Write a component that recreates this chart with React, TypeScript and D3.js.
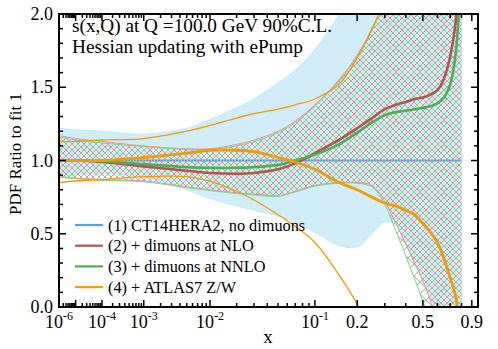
import React from 'react';
import * as d3 from 'd3';

const xGrid = [1e-6, 1e-5, 1e-4, 1e-3, 5e-3, 1e-2, 2e-2, 3e-2, 5e-2, 0.07, 0.1, 0.15, 0.2, 0.25, 0.3, 0.35, 0.4, 0.45, 0.5, 0.55, 0.6, 0.65, 0.7, 0.75, 0.8];

const ct14Central = [1, 1, 1, 1, 1, 1, 1, 1, 1, 1, 1, 1, 1, 1, 1, 1, 1, 1, 1, 1, 1, 1, 1, 1, 1];
const ct14Upper = [1.22, 1.21, 1.2, 1.18, 1.22, 1.28, 1.36, 1.42, 1.53, 1.62, 1.76, 2.0, 2.3, 2.6, 2.8, 3, 3, 3, 3, 3, 3, 3, 3, 3, 3];
const ct14Lower = [0.88, 0.9, 0.91, 0.89, 0.8, 0.74, 0.69, 0.66, 0.62, 0.58, 0.51, 0.42, 0.41, 0.5, 0.58, 0.56, 0.43, 0.29, 0.17, 0.06, -0.05, -0.2, -0.4, -0.6, -0.8];

const nloCentral = [1.0, 1.0, 0.99, 0.96, 0.93, 0.915, 0.91, 0.915, 0.94, 0.98, 1.05, 1.14, 1.22, 1.29, 1.35, 1.38, 1.4, 1.42, 1.43, 1.45, 1.48, 1.56, 1.71, 1.97, 2.6];
const nloUpper = [1.17, 1.15, 1.13, 1.1, 1.08, 1.08, 1.11, 1.14, 1.2, 1.27, 1.38, 1.55, 1.72, 1.9, 2.1, 2.4, 2.7, 3, 3, 3, 3, 3, 3, 3, 3];
const nloLower = [0.89, 0.88, 0.87, 0.86, 0.82, 0.8, 0.78, 0.77, 0.76, 0.79, 0.83, 0.85, 0.85, 0.83, 0.72, 0.57, 0.43, 0.3, 0.18, 0.04, -0.12, -0.3, -0.5, -0.7, -0.9];

const nnloCentral = [1.0, 1.0, 0.995, 0.975, 0.955, 0.95, 0.95, 0.955, 0.97, 1.0, 1.04, 1.11, 1.19, 1.26, 1.31, 1.33, 1.34, 1.35, 1.36, 1.37, 1.39, 1.43, 1.52, 1.75, 2.5];
const nnloUpper = [1.16, 1.14, 1.12, 1.095, 1.075, 1.075, 1.1, 1.13, 1.19, 1.26, 1.37, 1.54, 1.71, 1.89, 2.1, 2.4, 2.7, 3, 3, 3, 3, 3, 3, 3, 3];
const nnloLower = [0.885, 0.875, 0.865, 0.855, 0.815, 0.795, 0.775, 0.765, 0.755, 0.785, 0.825, 0.845, 0.845, 0.82, 0.7, 0.52, 0.35, 0.19, 0.04, -0.1, -0.3, -0.5, -0.7, -0.9, -1.1];

const atlasCentral = [1.0, 1.0, 1.0, 1.02, 1.05, 1.07, 1.07, 1.06, 1.02, 0.99, 0.94, 0.85, 0.8, 0.75, 0.71, 0.69, 0.66, 0.63, 0.57, 0.51, 0.44, 0.33, 0.2, 0.06, -0.3];
const atlasUpper = [1.13, 1.13, 1.14, 1.15, 1.2, 1.24, 1.29, 1.32, 1.35, 1.38, 1.42, 1.52, 1.7, 1.9, 2.1, 2.4, 2.7, 3, 3, 3, 3, 3, 3, 3, 3];
const atlasLower = [0.85, 0.86, 0.87, 0.89, 0.89, 0.86, 0.79, 0.73, 0.63, 0.55, 0.44, 0.22, 0.02, -0.2, -0.4, -0.6, -0.8, -1, -1, -1, -1, -1, -1, -1, -1];

const legendLabels = ['(1) CT14HERA2, no dimuons', '(2) + dimuons at NLO', '(3) + dimuons at NNLO', '(4) + ATLAS7 Z/W'];
const legendColors = ['#5a9cf0', '#b8524f', '#4caf50', '#f29b00'];

const yMajorTicks = [0, 0.5, 1.0, 1.5, 2.0];
const yTickLabels = ['0.0', '0.5', '1.0', '1.5', '2.0'];
const xLabelTicks = [
  { v: 1e-6, base: '10', exp: '-6' },
  { v: 1e-4, base: '10', exp: '-4' },
  { v: 1e-3, base: '10', exp: '-3' },
  { v: 1e-2, base: '10', exp: '-2' },
  { v: 1e-1, base: '10', exp: '-1' },
  { v: 0.2, base: '0.2', exp: '' },
  { v: 0.5, base: '0.5', exp: '' },
  { v: 0.9, base: '0.9', exp: '' },
];
const xMajorTickVals = [1e-6, 1e-5, 1e-4, 1e-3, 1e-2, 1e-1, 0.2, 0.5, 0.9];
const xMinorLinear = [0.3, 0.4, 0.6, 0.7, 0.8];

const titleLines = ['s(x,Q) at Q =100.0 GeV 90%C.L.', 'Hessian updating with ePump'];

const W = 498, H = 349;
const L = 59, R = 478, T = 14, B = 307;
const FONT = "'Liberation Serif', 'Times New Roman', serif";

export default function App() {
  const x = d3.scalePow().exponent(0.2).domain([1e-6, 0.965]).range([L, R]);
  const y = d3.scaleLinear().domain([0, 2]).range([B, T]);
  const curve = d3.curveCatmullRom.alpha(0.5);

  const line = (vals: number[]) =>
    d3.line<number>().x((_, i) => x(xGrid[i])).y((v) => y(v)).curve(curve)(vals) || '';
  const area = (lo: number[], hi: number[]) =>
    d3.area<number>().x((_, i) => x(xGrid[i])).y0((_, i) => y(lo[i])).y1((_, i) => y(hi[i])).curve(curve)(lo) || '';

  const xMinor: number[] = [];
  for (let e = -6; e <= -2; e++) for (let k = 2; k <= 9; k++) xMinor.push(k * Math.pow(10, e));
  xMinorLinear.forEach((v) => xMinor.push(v));
  const yMinor: number[] = d3.range(0, 21).map((i) => i / 10).filter((v) => Math.abs(v * 2 - Math.round(v * 2)) > 1e-6);

  const tickMaj = 7, tickMin = 4;
  const titleWidths = [260, 231];

  return (
    <svg width={W} height={H} style={{ position: 'absolute', left: 0, top: 0, display: 'block', background: '#fff' }} fontFamily={FONT}>
      <defs>
        <clipPath id="plotClip">
          <rect x={L} y={T} width={R - L} height={B - T} />
        </clipPath>
        <pattern id="hatchNLO" patternUnits="userSpaceOnUse" width={12} height={12}>
          <path d="M-3,-3 L15,15 M15,-3 L-3,15" stroke="#f08ca3" strokeWidth={1} />
        </pattern>
        <pattern id="hatchNNLO" patternUnits="userSpaceOnUse" width={12} height={12} patternTransform="translate(6,0)">
          <path d="M-3,-3 L15,15 M15,-3 L-3,15" stroke="#7fd47f" strokeWidth={1} />
        </pattern>
      </defs>

      <g clipPath="url(#plotClip)">
        <path d={area(ct14Lower, ct14Upper)} fill="#d1edfa" stroke="#bce4f7" strokeWidth={0.8} />
        <path d={line(ct14Central)} fill="none" stroke={legendColors[0]} strokeWidth={2} />
        <path d={area(nloLower, nloUpper)} fill="url(#hatchNLO)" />
        <path d={area(nnloLower, nnloUpper)} fill="url(#hatchNNLO)" />
        <path d={line(nloUpper)} fill="none" stroke="#f08ca3" strokeWidth={1} />
        <path d={line(nloLower)} fill="none" stroke="#f08ca3" strokeWidth={1} />
        <path d={line(nnloUpper)} fill="none" stroke="#7fd47f" strokeWidth={1} />
        <path d={line(nnloLower)} fill="none" stroke="#7fd47f" strokeWidth={1} />
        <path d={line(atlasUpper)} fill="none" stroke={legendColors[3]} strokeWidth={1.3} />
        <path d={line(atlasLower)} fill="none" stroke={legendColors[3]} strokeWidth={1.3} />
        <path d={line(nloCentral)} fill="none" stroke={legendColors[1]} strokeWidth={2.6} />
        <path d={line(nnloCentral)} fill="none" stroke={legendColors[2]} strokeWidth={2.6} />
        <path d={line(atlasCentral)} fill="none" stroke={legendColors[3]} strokeWidth={2.8} />
      </g>

      {/* ticks */}
      <g stroke="#000" strokeWidth={1.5}>
        {yMajorTicks.map((v) => (
          <g key={'ym' + v}>
            <line x1={L} x2={L + tickMaj} y1={y(v)} y2={y(v)} />
            <line x1={R} x2={R - tickMaj} y1={y(v)} y2={y(v)} />
          </g>
        ))}
        {yMinor.map((v) => (
          <g key={'yn' + v}>
            <line x1={L} x2={L + tickMin} y1={y(v)} y2={y(v)} />
            <line x1={R} x2={R - tickMin} y1={y(v)} y2={y(v)} />
          </g>
        ))}
        {xMajorTickVals.map((v) => (
          <g key={'xm' + v}>
            <line x1={x(v)} x2={x(v)} y1={B} y2={B - tickMaj} />
            <line x1={x(v)} x2={x(v)} y1={T} y2={T + tickMaj} />
          </g>
        ))}
        {xMinor.map((v) => (
          <g key={'xn' + v}>
            <line x1={x(v)} x2={x(v)} y1={B} y2={B - tickMin} />
            <line x1={x(v)} x2={x(v)} y1={T} y2={T + tickMin} />
          </g>
        ))}
      </g>

      <rect x={L} y={T} width={R - L} height={B - T} fill="none" stroke="#000" strokeWidth={2} />

      {/* y tick labels */}
      {yMajorTicks.map((v, i) => (
        <text key={'yl' + v} x={53} y={y(v) + 6} textAnchor="end" fontSize={18} fill="#000">
          {yTickLabels[i]}
        </text>
      ))}
      {/* x tick labels */}
      {xLabelTicks.map((t) => (
        <text key={'xl' + t.v} x={x(t.v)} y={328} textAnchor="middle" fontSize={18} fill="#000">
          {t.base}
          {t.exp ? (
            <tspan fontSize={12} dy={-8}>{t.exp}</tspan>
          ) : null}
        </text>
      ))}

      <text x={268} y={343} textAnchor="middle" fontSize={19} fill="#000">x</text>
      <text transform="translate(21,154) rotate(-90)" textAnchor="middle" fontSize={17} fill="#000">PDF Ratio to fit 1</text>

      {titleLines.map((s, i) => (
        <text key={s} x={72} y={32 + i * 21} fontSize={18} fill="#000" textLength={titleWidths[i]} lengthAdjust="spacingAndGlyphs">{s}</text>
      ))}

      {legendLabels.map((s, i) => (
        <g key={s}>
          <line x1={75} x2={103} y1={225 + i * 20.7} y2={225 + i * 20.7} stroke={legendColors[i]} strokeWidth={2.2} />
          <text x={108} y={230.5 + i * 20.7} fontSize={16.3} fill="#000">{s}</text>
        </g>
      ))}
    </svg>
  );
}
